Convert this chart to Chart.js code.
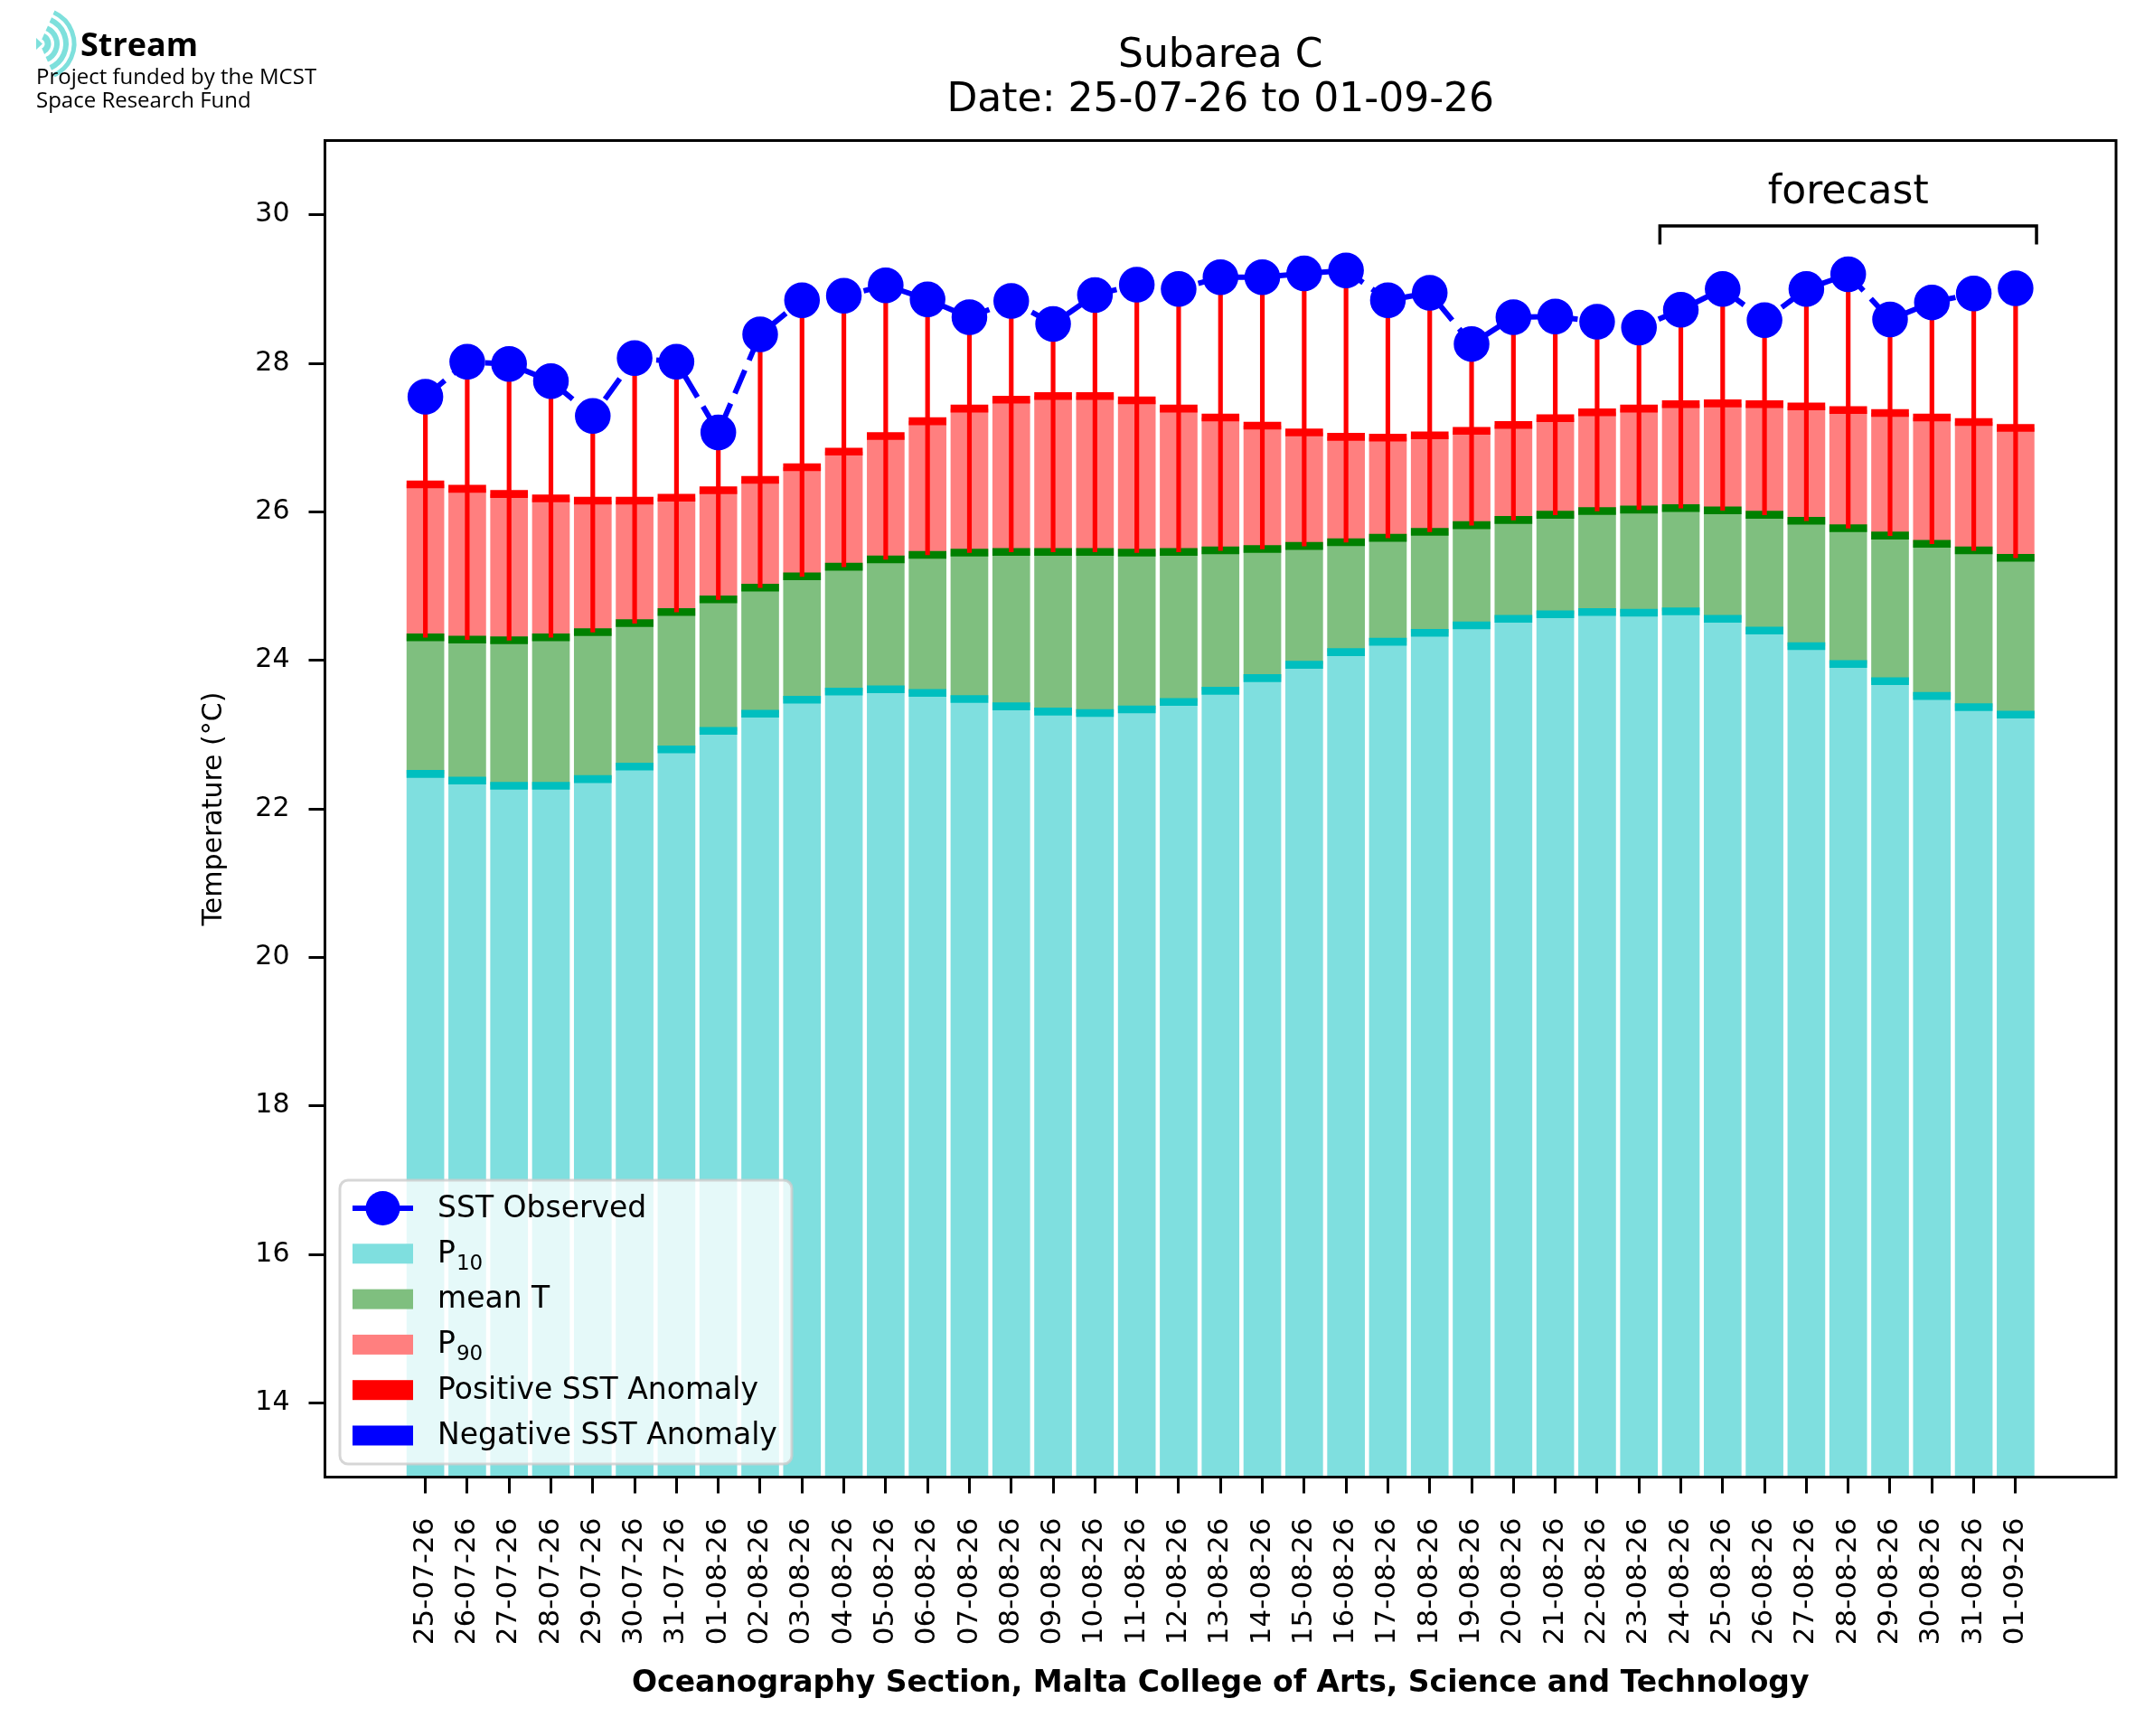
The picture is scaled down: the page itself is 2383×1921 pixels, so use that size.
<!DOCTYPE html>
<html>
<head>
<meta charset="utf-8">
<script src="https://cdn.jsdelivr.net/npm/chart.js@4.4.1/dist/chart.umd.min.js"></script>
<style>
  html, body { margin: 0; padding: 0; background: #ffffff; }
  #c { display: block; }
</style>
</head>
<body>
<canvas id="c" width="2383" height="1921" style="width:2383px;height:1921px"></canvas>
<script>
// ---------------- DATA ----------------
const dates = [
  '25-07-26','26-07-26','27-07-26','28-07-26','29-07-26','30-07-26','31-07-26',
  '01-08-26','02-08-26','03-08-26','04-08-26','05-08-26','06-08-26','07-08-26',
  '08-08-26','09-08-26','10-08-26','11-08-26','12-08-26','13-08-26','14-08-26',
  '15-08-26','16-08-26','17-08-26','18-08-26','19-08-26','20-08-26','21-08-26',
  '22-08-26','23-08-26','24-08-26','25-08-26','26-08-26','27-08-26','28-08-26',
  '29-08-26','30-08-26','31-08-26','01-09-26'
];
const sstObserved = [
  27.55, 28.02, 27.99, 27.76, 27.29, 28.07, 28.02, 27.07, 28.39, 28.85,
  28.91, 29.05, 28.86, 28.62, 28.84, 28.53, 28.92, 29.06, 29.00, 29.16,
  29.16, 29.21, 29.25, 28.85, 28.95, 28.26, 28.62, 28.63, 28.56, 28.48,
  28.72, 29.00, 28.58, 29.00, 29.20, 28.59, 28.82, 28.94, 29.01
];
const p90 = [
  26.37, 26.31, 26.24, 26.18, 26.15, 26.15, 26.19, 26.29, 26.43, 26.60,
  26.81, 27.02, 27.22, 27.39, 27.51, 27.56, 27.56, 27.50, 27.39, 27.27,
  27.16, 27.07, 27.01, 27.00, 27.03, 27.09, 27.17, 27.26, 27.34, 27.39,
  27.45, 27.46, 27.45, 27.42, 27.37, 27.33, 27.27, 27.21, 27.13
];
const meanT = [
  24.31, 24.28, 24.27, 24.31, 24.38, 24.50, 24.65, 24.82, 24.98, 25.13,
  25.26, 25.36, 25.42, 25.45, 25.46, 25.46, 25.46, 25.45, 25.46, 25.48,
  25.50, 25.54, 25.59, 25.65, 25.73, 25.82, 25.89, 25.96, 26.01, 26.03,
  26.05, 26.02, 25.96, 25.88, 25.78, 25.68, 25.57, 25.48, 25.38
];
const p10 = [
  22.47, 22.38, 22.31, 22.31, 22.40, 22.57, 22.80, 23.05, 23.28, 23.47,
  23.58, 23.61, 23.56, 23.48, 23.38, 23.31, 23.29, 23.34, 23.44, 23.59,
  23.76, 23.94, 24.11, 24.25, 24.37, 24.47, 24.56, 24.62, 24.65, 24.64,
  24.66, 24.56, 24.40, 24.19, 23.95, 23.72, 23.52, 23.37, 23.27
];
const yTickValues = [14, 16, 18, 20, 22, 24, 26, 28, 30];
const titleLines = ['Subarea C', 'Date: 25-07-26 to 01-09-26'];
const xAxisTitle = 'Oceanography Section, Malta College of Arts, Science and Technology';
const yAxisTitle = 'Temperature (°C)';
const legendLabels = ['SST Observed', 'P', 'mean T', 'P', 'Positive SST Anomaly', 'Negative SST Anomaly'];
const legendSubscripts = ['', '10', '', '90', '', ''];
const forecastLabel = 'forecast';
const forecastSpan = [29.5, 38.5];      // category positions of the bracket ends
const forecastLevels = [29.85, 29.60, 30.16]; // bracket top, bracket feet, label baseline (°C)
const logoTitle = 'Stream';
const logoLines = ['Project funded by the MCST', 'Space Research Fund'];

// ---------------- STYLE ----------------
const C = {
  cyanLight: '#7FDFDF', cyanBand: '#00BFBF',
  greenLight: '#7FBF7F', greenBand: '#008000',
  redLight: '#FF7F7F', redBand: '#FF0000',
  blue: '#0000FF', logo: '#7EE0DC'
};
const FONT = '"DejaVu Sans", sans-serif';
Chart.defaults.font.family = FONT;
Chart.defaults.color = '#000000';

const idx = dates.map((_, i) => i);
const BAND = 0.052;
const BASE = 0;

function rangeData(lo, hi) { return idx.map(i => ({ x: i, y: [lo[i], hi[i]] })); }
function bandData(v) { return idx.map(i => ({ x: i, y: [v[i] - BAND, v[i] + BAND] })); }
const barCommon = { type: 'bar', grouped: false, categoryPercentage: 0.9, barPercentage: 1.0, borderWidth: 0 };

const datasets = [
  {
    type: 'line', label: 'SST Observed',
    data: idx.map(i => ({ x: i, y: sstObserved[i] })),
    borderColor: C.blue, backgroundColor: C.blue, borderWidth: 6, borderDash: [28, 12],
    pointRadius: 19, pointBorderWidth: 1.5, pointBackgroundColor: C.blue, pointBorderColor: C.blue,
    tension: 0, order: 0
  },
  Object.assign({}, barCommon, {
    label: 'Positive SST Anomaly',
    data: idx.map(i => ({ x: i, y: sstObserved[i] >= meanT[i] ? [meanT[i], sstObserved[i]] : null })),
    backgroundColor: C.redBand, barThickness: 4.5, order: 2
  }),
  Object.assign({}, barCommon, {
    label: 'Negative SST Anomaly',
    data: idx.map(i => ({ x: i, y: sstObserved[i] < meanT[i] ? [sstObserved[i], meanT[i]] : null })),
    backgroundColor: C.blue, barThickness: 4.5, order: 2
  }),
  Object.assign({}, barCommon, { label: 'P90 line', data: bandData(p90), backgroundColor: C.redBand, order: 3 }),
  Object.assign({}, barCommon, { label: 'mean line', data: bandData(meanT), backgroundColor: C.greenBand, order: 3 }),
  Object.assign({}, barCommon, { label: 'P10 line', data: bandData(p10), backgroundColor: C.cyanBand, order: 3 }),
  Object.assign({}, barCommon, { label: 'P90', data: rangeData(meanT, p90), backgroundColor: C.redLight, order: 4 }),
  Object.assign({}, barCommon, { label: 'mean T', data: rangeData(p10, meanT), backgroundColor: C.greenLight, order: 4 }),
  Object.assign({}, barCommon, { label: 'P10', data: idx.map(i => ({ x: i, y: [BASE, p10[i]] })), backgroundColor: C.cyanLight, order: 4 })
];

const legendStyles = [
  { kind: 'line', color: C.blue },
  { kind: 'patch', color: C.cyanLight },
  { kind: 'patch', color: C.greenLight },
  { kind: 'patch', color: C.redLight },
  { kind: 'patch', color: C.redBand },
  { kind: 'patch', color: C.blue }
];

function roundRectPath(ctx, x, y, w, h, r) {
  ctx.beginPath();
  ctx.moveTo(x + r, y);
  ctx.lineTo(x + w - r, y); ctx.arcTo(x + w, y, x + w, y + r, r);
  ctx.lineTo(x + w, y + h - r); ctx.arcTo(x + w, y + h, x + w - r, y + h, r);
  ctx.lineTo(x + r, y + h); ctx.arcTo(x, y + h, x, y + h - r, r);
  ctx.lineTo(x, y + r); ctx.arcTo(x, y, x + r, y, r);
  ctx.closePath();
}

const extras = {
  id: 'extras',
  afterLayout(chart) {
    const tb = chart.titleBlock;
    if (tb) { tb.left = chart.chartArea.left; tb.right = chart.chartArea.right; }
  },
  afterDatasetsDraw(chart) {
    const { ctx, chartArea: a, scales: { x, y } } = chart;
    ctx.save();
    // axes frame (all four spines)
    ctx.strokeStyle = '#000'; ctx.lineWidth = 3;
    ctx.strokeRect(a.left, a.top, a.right - a.left, a.bottom - a.top);
    // forecast bracket
    const x0 = x.getPixelForValue(forecastSpan[0]);
    const x1 = x.getPixelForValue(forecastSpan[1]);
    const yt = y.getPixelForValue(forecastLevels[0]);
    const yf = y.getPixelForValue(forecastLevels[1]);
    ctx.lineWidth = 3.5; ctx.lineJoin = 'miter';
    ctx.beginPath(); ctx.moveTo(x0, yf); ctx.lineTo(x0, yt); ctx.lineTo(x1, yt); ctx.lineTo(x1, yf); ctx.stroke();
    ctx.fillStyle = '#000'; ctx.font = '44px ' + FONT; ctx.textAlign = 'center'; ctx.textBaseline = 'alphabetic';
    ctx.fillText(forecastLabel, (x0 + x1) / 2, y.getPixelForValue(forecastLevels[2]));
    ctx.restore();
  },
  afterDraw(chart) {
    const { ctx, chartArea: a } = chart;
    ctx.save();
    // legend
    const bw = 500, bh = 314;
    const bx = a.left + 16.5, by = a.bottom - 14.5 - bh;
    roundRectPath(ctx, bx, by, bw, bh, 9);
    ctx.fillStyle = 'rgba(255,255,255,0.8)'; ctx.fill();
    ctx.lineWidth = 3; ctx.strokeStyle = 'rgba(204,204,204,0.8)'; ctx.stroke();
    legendLabels.forEach((lab, i) => {
      const cy = by + 31 + i * 50.3;
      const hx0 = bx + 14, hx1 = bx + 81;
      const st = legendStyles[i];
      ctx.fillStyle = st.color; ctx.strokeStyle = st.color;
      if (st.kind === 'line') {
        ctx.lineWidth = 6;
        ctx.beginPath(); ctx.moveTo(hx0, cy); ctx.lineTo(hx1, cy); ctx.stroke();
        ctx.beginPath(); ctx.arc((hx0 + hx1) / 2, cy, 19, 0, Math.PI * 2); ctx.fill();
      } else {
        ctx.fillRect(hx0, cy - 11, hx1 - hx0, 22);
      }
      ctx.fillStyle = '#000';
      ctx.textAlign = 'left'; ctx.textBaseline = 'middle';
      ctx.font = '33px ' + FONT;
      const tx = bx + 108;
      ctx.fillText(lab, tx, cy + 1);
      if (legendSubscripts[i]) {
        const w = ctx.measureText(lab).width;
        ctx.font = '23px ' + FONT;
        ctx.textBaseline = 'alphabetic';
        ctx.fillText(legendSubscripts[i], tx + w + 1, cy + 12.4 + 5);
      }
    });
    // logo icon
    ctx.strokeStyle = C.logo; ctx.fillStyle = C.logo; ctx.lineCap = 'butt';
    const lcx = 44, lcy = 48.5;
    [[9, 7], [19, 6], [29, 6], [38, 5]].forEach(([r, lw]) => {
      ctx.lineWidth = lw;
      ctx.beginPath(); ctx.arc(lcx, lcy, r, -1.15, 1.15); ctx.stroke();
    });
    ctx.beginPath(); ctx.moveTo(40, 42); ctx.lineTo(47, 48.5); ctx.lineTo(40, 55); ctx.closePath(); ctx.fill();
    // logo text
    ctx.fillStyle = '#000'; ctx.textAlign = 'left'; ctx.textBaseline = 'alphabetic';
    ctx.font = 'bold 36px "Open Sans", ' + FONT;
    ctx.fillText(logoTitle, 89, 62);
    ctx.font = '24px "Open Sans", ' + FONT;
    ctx.fillText(logoLines[0], 40, 93);
    ctx.fillText(logoLines[1], 40, 118.5);
    ctx.restore();
  }
};

const tickGrid = { display: true, drawOnChartArea: false, drawTicks: true, tickLength: 18, tickWidth: 3, tickColor: '#000', offset: false };

new Chart(document.getElementById('c'), {
  type: 'bar',
  data: { datasets },
  options: {
    responsive: false,
    animation: false,
    events: [],
    layout: { padding: { left: 0, right: 42, top: 0, bottom: 0 } },
    scales: {
      x: {
        type: 'linear', min: -2.4, max: 40.4, offset: false,
        grid: tickGrid,
        border: { display: false },
        afterBuildTicks: (s) => { s.ticks = idx.map(v => ({ value: v })); },
        afterFit: (s) => { s.height = 286.5; },
        ticks: {
          autoSkip: false, maxRotation: 90, minRotation: 90, padding: 27,
          font: { size: 31 }, color: '#000',
          callback: (v) => dates[v]
        },
        title: { display: true, text: xAxisTitle, font: { size: 33, weight: 'bold' }, color: '#000', padding: { top: 0, bottom: 37.6 } }
      },
      y: {
        type: 'linear', min: 13, max: 31,
        grid: tickGrid,
        border: { display: false },
        afterBuildTicks: (s) => { s.ticks = yTickValues.map(v => ({ value: v })); },
        afterFit: (s) => { s.width = 359.5; },
        ticks: { font: { size: 30 }, color: '#000', padding: 21 },
        title: { display: true, text: yAxisTitle, font: { size: 30 }, color: '#000', padding: { top: 219, bottom: 0 } }
      }
    },
    plugins: {
      legend: { display: false },
      tooltip: { enabled: false },
      title: {
        display: true, text: titleLines, color: '#000',
        font: { size: 44, weight: 'normal', lineHeight: 1.107 },
        padding: { top: 38.4, bottom: 19.7 }
      }
    }
  },
  plugins: [extras]
});
</script>
</body>
</html>
